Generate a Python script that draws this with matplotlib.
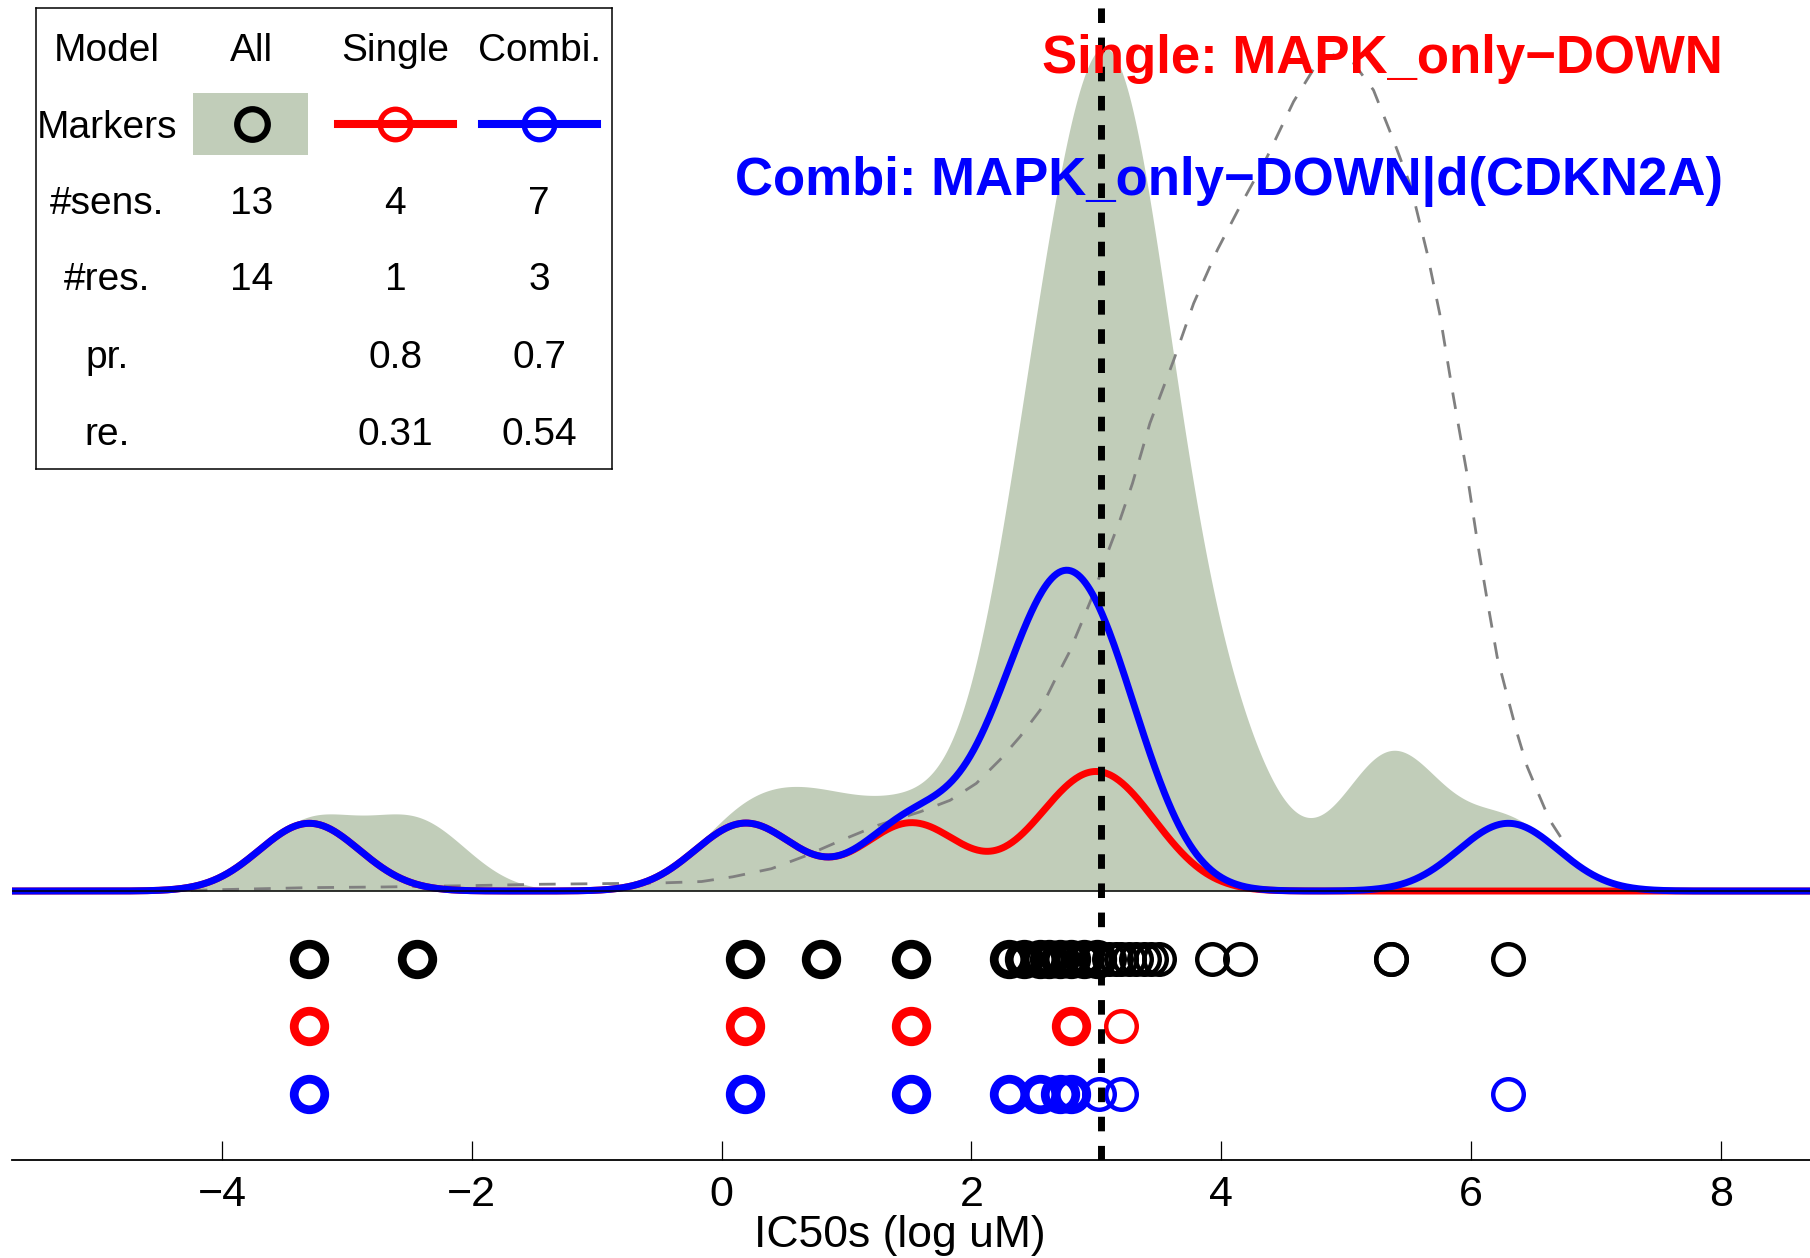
import numpy as np
import matplotlib
matplotlib.use("Agg")
import matplotlib.pyplot as plt
from matplotlib.patches import Rectangle

plt.rcParams['font.family'] = ['Liberation Sans', 'DejaVu Sans']

# IC50s (log uM) per marker row: thick = sensitive, thin = resistant
all_sens = [-3.30, -2.44, 0.19, 0.80, 1.52, 2.30, 2.42, 2.55, 2.62, 2.71, 2.80, 2.90, 3.01]
all_res = [3.02, 3.10, 3.16, 3.20, 3.26, 3.32, 3.38, 3.44, 3.50, 3.93, 4.15, 5.36, 5.36, 6.30]
single_sens = [-3.30, 0.19, 1.52, 2.80]
single_res = [3.20]
combi_sens = [-3.30, 0.19, 1.52, 2.30, 2.55, 2.71, 2.80]
combi_res = [3.02, 3.20, 6.30]
threshold = 3.04

# dashed reference curve
ref_x = [-4.25, -3.3, -2.7, -2.0, -1.44, -0.9, -0.47, -0.16, 0.09, 0.40, 0.66, 0.96, 1.25, 1.59,
         1.83, 2.04, 2.23, 2.39, 2.55, 2.67, 2.78, 2.88, 2.98, 3.10, 3.19, 3.29, 3.43, 3.62, 3.78,
         3.97, 4.15, 4.37, 4.58, 4.77, 4.90, 5.06, 5.22, 5.38, 5.52, 5.65, 5.75, 5.86, 5.97, 6.05,
         6.13, 6.21, 6.30, 6.37, 6.45, 6.54, 6.63, 6.77]
ref_y = [0.01, 0.05, 0.06, 0.08, 0.10, 0.11, 0.12, 0.14, 0.21, 0.33, 0.51, 0.75, 0.97, 1.17,
         1.34, 1.59, 1.94, 2.28, 2.67, 3.12, 3.51, 3.95, 4.40, 5.04, 5.48, 6.02, 6.91, 7.84, 8.68,
         9.47, 10.11, 10.85, 11.66, 12.23, 12.35, 12.23, 11.83, 11.09, 10.40, 9.42, 8.53, 7.30, 6.15,
         5.18, 4.30, 3.46, 2.82, 2.33, 1.84, 1.44, 1.05, 0.65]

# legend table
table_cols = ['Model', 'All', 'Single', 'Combi.']
table_rows = ['Markers', '#sens.', '#res.', 'pr.', 're.']
n_sens = ['13', '4', '7']
n_res = ['14', '1', '3']
precision = ['', '0.8', '0.7']
recall = ['', '0.31', '0.54']

single_label = 'Single: MAPK_only\u2212DOWN'
combi_label = 'Combi: MAPK_only\u2212DOWN|d(CDKN2A)'

bw = 0.40
W, H = 1810, 1258


def kde(grid, pts):
    pts = np.asarray(pts)
    return np.exp(-(grid[:, None] - pts[None, :]) ** 2 / (2 * bw ** 2)).sum(axis=1)


fig = plt.figure(figsize=(W / 100, H / 100), dpi=100)
ax = fig.add_axes([11.5 / W, 98 / H, 1798.5 / W, 1160 / H])
ax.set_xlim(-5.685, 8.715)
ax.set_ylim(-3.973, 13.161)

grid = np.linspace(-5.685, 8.715, 1500)
ax.fill_between(grid, kde(grid, all_sens + all_res), 0, color='#c1cdb9', lw=0, zorder=1)
ax.plot(ref_x, ref_y, color='0.5', lw=2, dashes=(6, 5.4), zorder=2)
ax.plot(grid, kde(grid, single_sens + single_res), color='r', lw=5, zorder=3)
ax.plot(grid, kde(grid, combi_sens + combi_res), color='b', lw=5, zorder=4)
ax.axhline(0, color='k', lw=1.1, zorder=5)

rows = [(all_sens, all_res, 'k'), (single_sens, single_res, 'r'), (combi_sens, combi_res, 'b')]
for i, (sens, res, c) in enumerate(rows):
    yy = -(i + 1)
    ax.plot(res, [yy] * len(res), 'o', ms=22, mfc='none', mec=c, mew=3.2, ls='none', zorder=6)
    ax.plot(sens, [yy] * len(sens), 'o', ms=22, mfc='none', mec=c, mew=6.3, ls='none', zorder=7)

ax.axvline(threshold, color='k', lw=5, dashes=(2.1, 2.1), zorder=8)

for s in ['top', 'left', 'right']:
    ax.spines[s].set_visible(False)
ax.spines['bottom'].set_linewidth(1.3)
ax.set_yticks([])
ax.set_xticks([-4, -2, 0, 2, 4, 6, 8])
ax.tick_params(axis='x', direction='in', length=13.7, width=0.9, labelsize=31, pad=11)
ax.set_xlabel('IC50s (log uM)', fontsize=32)
ax.xaxis.set_label_coords(0.494, -(1247 - 1160) / 1160)
ax.xaxis.label.set_va('baseline')

fig.text(1723 / W, 1 - 73.5 / H, single_label, color='r', fontsize=38, fontweight='bold',
         ha='right', va='baseline')
fig.text(1723 / W, 1 - 195 / H, combi_label, color='b', fontsize=38, fontweight='bold',
         ha='right', va='baseline')

# legend table box, coordinates in figure pixels
x0, x1, y0, y1 = 35.6, 612, 8.3, 469.3
lg = fig.add_axes([x0 / W, 1 - y1 / H, (x1 - x0) / W, (y1 - y0) / H])
lg.set_xlim(x0, x1)
lg.set_ylim(y1, y0)
lg.set_xticks([])
lg.set_yticks([])
for s in lg.spines.values():
    s.set_linewidth(1.1)

col_x = [107, 251.5, 395.4, 539.2]
row_base = [61, 137.5, 213.5, 290.5, 368, 445]
fs = 28
for cx, t in zip(col_x, table_cols):
    lg.text(cx, row_base[0], t, fontsize=fs, ha='center', va='baseline')
for ry, t in zip(row_base[1:], table_rows):
    lg.text(col_x[0], ry, t, fontsize=fs, ha='center', va='baseline')
for vals, ry in zip([n_sens, n_res, precision, recall], row_base[2:]):
    for cx, v in zip(col_x[1:], vals):
        lg.text(cx, ry, v, fontsize=fs, ha='center', va='baseline')

my = 124
lg.add_patch(Rectangle((193, 93.3), 115.4, 61.7, color='#c1cdb9', lw=0))
lg.plot([col_x[1]], [my], 'o', ms=22, mfc='none', mec='k', mew=4.5)
lg.plot([338, 452.7], [my, my], color='r', lw=5.8)
lg.plot([col_x[2]], [my], 'o', ms=22, mfc='none', mec='r', mew=3.8)
lg.plot([481.6, 597], [my, my], color='b', lw=5.8)
lg.plot([col_x[3]], [my], 'o', ms=22, mfc='none', mec='b', mew=3.8)

fig.savefig('out.png', dpi=100)
